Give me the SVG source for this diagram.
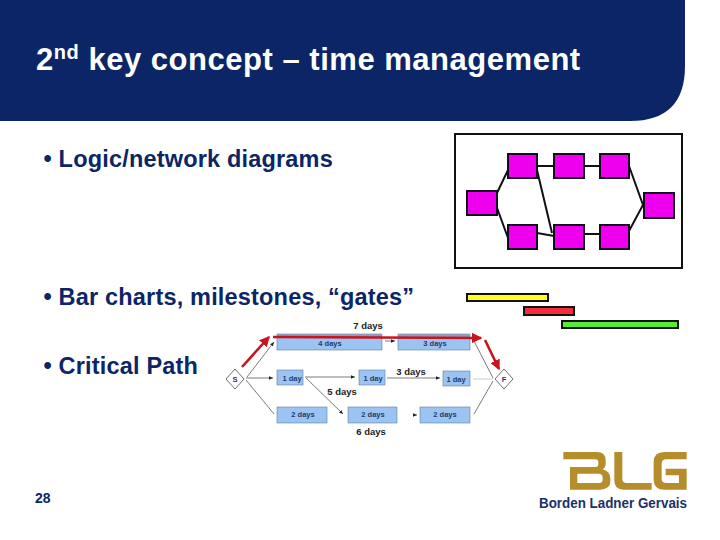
<svg xmlns="http://www.w3.org/2000/svg" width="720" height="540" viewBox="0 0 720 540">
<style>
text{font-family:"Liberation Sans",Arial,sans-serif}
.t{fill:#fff;font-size:31px;font-weight:bold;letter-spacing:.52px}
.b{fill:#0b2566;font-size:23.5px;font-weight:bold;letter-spacing:.18px}
.m{fill:#ee00ee;stroke:#160a20;stroke-width:2}
.k{stroke:#111;stroke-width:2;fill:none}
.bl{fill:#9cc4f2;stroke:#5f7f9f;stroke-width:.6}
.lb{fill:#1c3a70;font-size:7.5px;font-weight:bold;text-anchor:middle}
.d{fill:#222;font-size:9.5px;font-weight:bold;text-anchor:middle}
.c{stroke:#444;stroke-width:.7;fill:none}
.r{stroke:#c8141c;stroke-width:2.6;fill:none}
.dm{fill:#fff;stroke:#333;stroke-width:.7}
.g{fill:#b58d2b}
</style>
<defs>
<marker id="ar" markerWidth="7" markerHeight="7" refX="6" refY="3.5" orient="auto"><path d="M0 1L6 3.5L0 6z" fill="#222"/></marker>
<marker id="rr" markerWidth="4" markerHeight="4" refX="3.5" refY="2" orient="auto"><path d="M0 0L4 2L0 4z" fill="#c8141c"/></marker>
</defs>
<rect width="720" height="540" fill="#fff"/>
<g id="header"><path d="M0 0H685V66Q685 121 630 121H0z" fill="#0b2566"/>
<text class="t" x="36" y="70">2<tspan font-size="20" dy="-11">nd</tspan><tspan dy="11"> key concept – time management</tspan></text></g>
<g id="bullets">
<text class="b" x="43.5" y="167">• Logic/network diagrams</text>
<text class="b" x="43.5" y="305">• Bar charts, milestones, “gates”</text>
<text class="b" x="43.5" y="374">• Critical Path</text>
<text x="35" y="503" fill="#0b2566" font-size="14" font-weight="bold">28</text>
</g>
<g id="network">
<rect x="455" y="134" width="227" height="134" fill="#fff" stroke="#111" stroke-width="2"/>
<g class="k"><path d="M508 170L496 195M496 205L508 238M536 166H554M584 166H600M629 166L643 205L629 231M537 233L554 236M584 234H600M537 170L552 233"/></g>
<rect class="m" x="467" y="191" width="30" height="24"/>
<rect class="m" x="508" y="154" width="29" height="24"/>
<rect class="m" x="554" y="154" width="30" height="24"/>
<rect class="m" x="600" y="154" width="29" height="24"/>
<rect class="m" x="508" y="225" width="29" height="24"/>
<rect class="m" x="554" y="225" width="30" height="24"/>
<rect class="m" x="600" y="225" width="29" height="24"/>
<rect class="m" x="644" y="193" width="30" height="25"/>
</g>
<g id="bars" stroke="#111" stroke-width="2">
<rect x="467" y="294" width="81" height="7" fill="#ffff22"/>
<rect x="524" y="307" width="50" height="8" fill="#f42c3c"/>
<rect x="562" y="321" width="116" height="7" fill="#55ee33"/>
</g>
<g id="critical-path-nodes">
<rect class="bl" x="277" y="334" width="105" height="16"/><rect x="277" y="334" width="105" height="4" fill="#8a9cc0"/>
<rect class="bl" x="398" y="334" width="72" height="16"/><rect x="398" y="334" width="72" height="4" fill="#8a9cc0"/>
<rect class="bl" x="277" y="370" width="26" height="15"/>
<rect class="bl" x="359" y="370" width="26" height="15"/>
<rect class="bl" x="443" y="371" width="27" height="15"/>
<rect class="bl" x="277" y="407" width="50" height="16"/>
<rect class="bl" x="348" y="407" width="49" height="16"/>
<rect class="bl" x="420" y="407" width="50" height="16"/>
<text class="lb" x="330" y="346">4 days</text><text class="lb" x="435" y="346">3 days</text>
<text class="lb" x="292" y="381">1 day</text><text class="lb" x="373" y="381">1 day</text><text class="lb" x="456" y="382">1 day</text>
<text class="lb" x="303" y="417">2 days</text><text class="lb" x="373" y="417">2 days</text><text class="lb" x="445" y="417">2 days</text>
<path class="dm" d="M235 369L244 379L235 389L226 379z"/><path class="dm" d="M504 369L513 379L504 389L495 379z"/>
<text class="lb" x="235" y="382">S</text><text class="lb" x="504" y="382">F</text>
<text class="d" x="368" y="329">7 days</text><text class="d" x="411" y="375">3 days</text><text class="d" x="342" y="395">5 days</text><text class="d" x="371" y="435">6 days</text>
</g>
<g id="connectors">
<path class="c" marker-end="url(#ar)" d="M247 377L274 342"/>
<path class="c" marker-end="url(#ar)" d="M246 378H273"/>
<path class="c" d="M246 380L274 414"/>
<path class="c" marker-end="url(#ar)" d="M305 377H355"/>
<path class="c" marker-end="url(#ar)" d="M387 378H440"/>
<path class="c" marker-end="url(#ar)" d="M306 378L343 414"/>
<path class="c" marker-end="url(#ar)" d="M385 341H395"/>
<path class="c" d="M473 379H493" stroke-opacity=".4"/>
<path class="c" d="M474 341L493 378M474 414L493 381"/>
<path class="c" marker-end="url(#ar)" d="M414 415H417"/>
<path class="r" marker-end="url(#rr)" d="M242 367L269 337"/>
<path class="r" marker-end="url(#rr)" d="M273 337L481 338"/>
<path class="r" marker-end="url(#rr)" d="M485 340L499 369"/>
</g>
<g id="logo">
<g transform="translate(555 447) scale(.3333)">
<path class="g" d="M25 15H125Q152 15 152 40V50Q152 62 142 67Q166 72 166 95V103Q166 128 135 128H45V60H122Q130 60 130 52V45Q130 37 120 37H25zM67 80V108H130Q143 108 143 98V92Q143 80 130 80z"/>
<path class="g" d="M178 15H202V95Q202 108 215 108H290V128H205Q178 128 178 100z"/>
<path class="g" d="M296 45Q296 15 328 15H395V37H335Q320 37 320 50V95Q320 108 335 108H372V85H332V65H395V128H328Q296 128 296 98z"/>
</g>
<text x="539" y="508" fill="#1b2f6a" font-size="14" font-weight="bold" textLength="148" lengthAdjust="spacingAndGlyphs">Borden Ladner Gervais</text>
</g>
</svg>
